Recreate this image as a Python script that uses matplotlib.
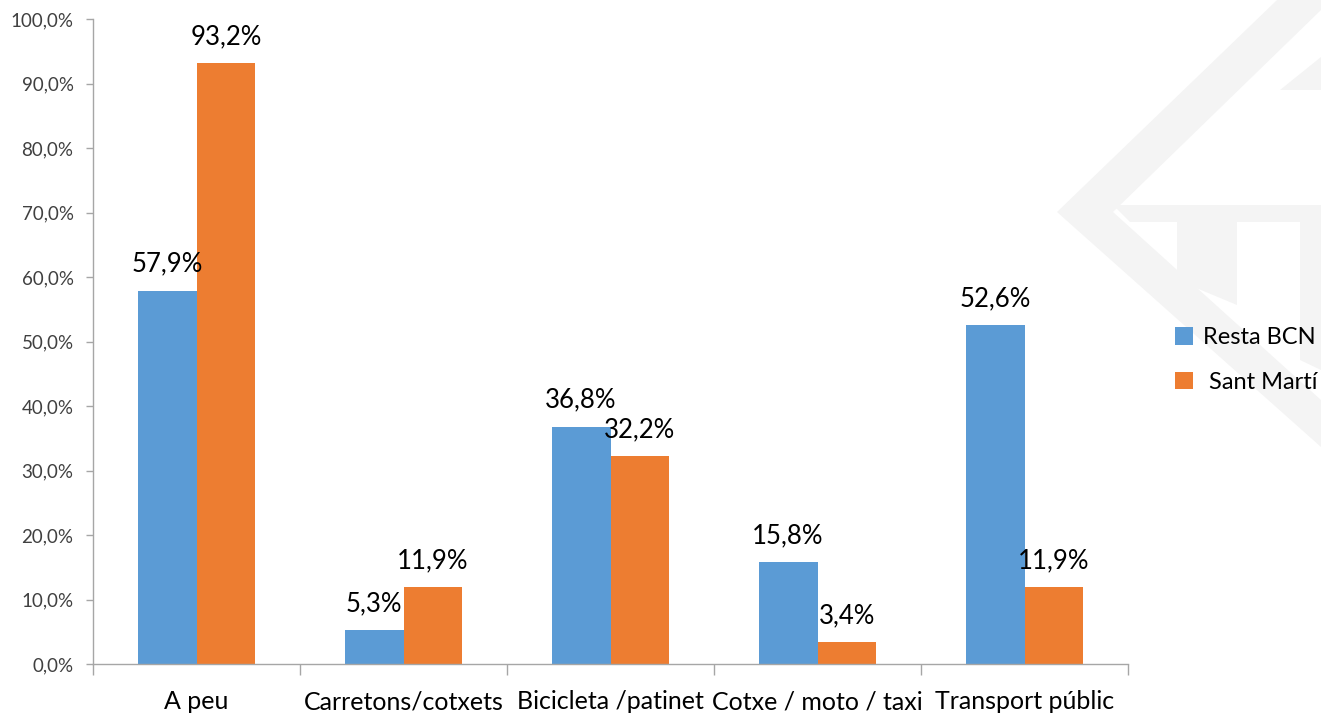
import matplotlib
matplotlib.use("Agg")
import matplotlib.pyplot as plt
from matplotlib.patches import Polygon, Patch
from matplotlib.ticker import FuncFormatter, MultipleLocator
import numpy as np

categories = ["A peu", "Carretons/cotxets", "Bicicleta /patinet", "Cotxe / moto / taxi", "Transport públic"]
resta_bcn = [57.9, 5.3, 36.8, 15.8, 52.6]
sant_marti = [93.2, 11.9, 32.2, 3.4, 11.9]
series_names = ["Resta BCN", " Sant Martí"]
colors = ["#5B9BD5", "#ED7D31"]

plt.rcParams['font.family'] = ['Lato', 'DejaVu Sans']

W, H = 1321, 715
fig = plt.figure(figsize=(W / 100, H / 100), dpi=100)

# faint watermark (background logo)
wm = "#f4f4f4"
def px(pts):
    return [(x / W, 1 - y / H) for x, y in pts]
for poly in [
    [(1277, 0), (1321, 0), (1321, 10), (1113, 212), (1321, 400), (1321, 447), (1057, 212)],
    [(1113, 205), (1321, 205), (1321, 222), (1130, 222)],
    [(1177, 222), (1237, 222), (1237, 305), (1177, 280)],
    [(1300, 222), (1321, 222), (1321, 370), (1300, 360)],
    [(1280, 90), (1321, 57), (1321, 90)],
]:
    fig.patches.append(Polygon(px(poly), closed=True, transform=fig.transFigure,
                               facecolor=wm, edgecolor='none', zorder=0))

ax = fig.add_axes([93 / W, 1 - 664 / H, (1128 - 93) / W, (664 - 19) / H])
ax.patch.set_alpha(0)

x = np.arange(len(categories))
bw = 0.285
b1 = ax.bar(x - bw / 2, resta_bcn, bw, color=colors[0], label=series_names[0], zorder=2)
b2 = ax.bar(x + bw / 2, sant_marti, bw, color=colors[1], label=series_names[1], zorder=2)

for bars, vals in ((b1, resta_bcn), (b2, sant_marti)):
    for rect, v in zip(bars, vals):
        ax.annotate(f"{v:.1f}%".replace('.', ','),
                    (rect.get_x() + rect.get_width() / 2, rect.get_height()),
                    xytext=(0, 10), textcoords='offset points',
                    ha='center', va='bottom', fontsize=18.5, color='black')

ax.set_ylim(0, 100)
ax.set_xlim(-0.5, len(categories) - 0.5)
ax.yaxis.set_major_locator(MultipleLocator(10))
ax.yaxis.set_major_formatter(FuncFormatter(lambda v, p: f"{v:.1f}%".replace('.', ',')))

ax.set_xticks(np.arange(-0.5, len(categories), 1.0), minor=False)
ax.set_xticklabels([])
ax.set_xticks(x, minor=True)
ax.set_xticklabels(categories, minor=True, fontsize=18, color='black')
ax.tick_params(axis='x', which='major', length=8, width=1, color='#a6a6a6', direction='out')
ax.tick_params(axis='x', which='minor', length=0, pad=19)
ax.tick_params(axis='y', length=5, width=1, color='#a6a6a6', labelsize=13.5, labelcolor='#404040', pad=9)

for s in ['top', 'right']:
    ax.spines[s].set_visible(False)
for s in ['left', 'bottom']:
    ax.spines[s].set_color('#a6a6a6')
    ax.spines[s].set_linewidth(1)

handles = [Patch(facecolor=c, edgecolor='none') for c in colors]
fig.legend(handles, series_names, loc='center left', bbox_to_anchor=(1166 / W, 1 - 360 / H),
           frameon=False, fontsize=17, handlelength=0.75, handleheight=0.75,
           handletextpad=0.4, labelspacing=1.0, borderaxespad=0)

fig.savefig("out.png", dpi=100)
